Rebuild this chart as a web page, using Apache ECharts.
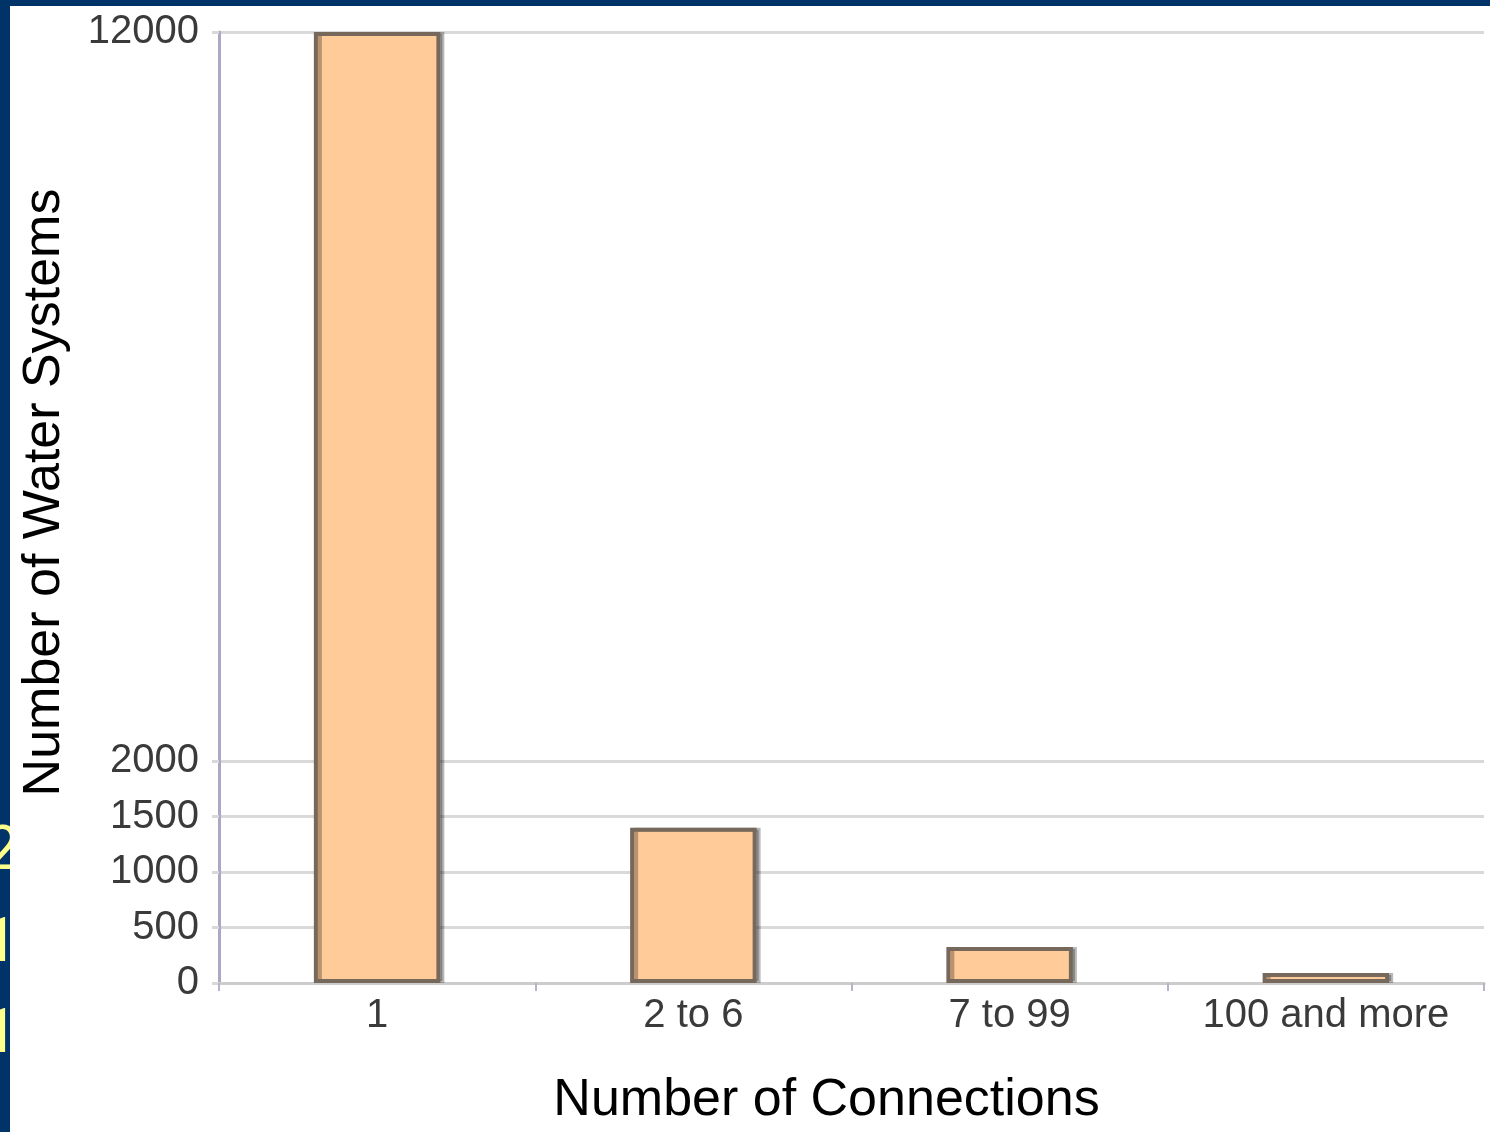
<!DOCTYPE html>
<html>
<head>
<meta charset="utf-8">
<script src="https://cdn.jsdelivr.net/npm/echarts@6/dist/echarts.min.js"></script>
<style>
html,body{margin:0;padding:0;background:#003468;}
#chart{width:1490px;height:1132px;}
</style>
</head>
<body>
<div id="chart"></div>
<script>
// Data
var categories = ['1', '2 to 6', '7 to 99', '100 and more'];
var systemCounts = [12000, 1400, 325, 90];
var yTickLabels = [0, 500, 1000, 1500, 2000, 12000];

// Broken y-axis: linear up to 2000, compressed above
var BREAK_AT = 2000;
var COMPRESS = 0.658;
function toAxis(v) {
  return v <= BREAK_AT ? v : BREAK_AT + (v - BREAK_AT) * COMPRESS;
}
var yTickPositions = yTickLabels.map(toAxis);
var axisMax = toAxis(12000);

var FONT = '"Liberation Sans", Arial, sans-serif';
var SIDE_FONT = 'Roboto, "Liberation Sans", sans-serif';

var chart = echarts.init(document.getElementById('chart'), null, {renderer: 'canvas'});
chart.setOption({
  backgroundColor: '#003468',
  animation: false,
  graphic: [
    {type: 'text', z: -3, left: -15, top: 822,
      style: {text: '2', fill: '#ffff8c', font: '62px ' + SIDE_FONT}},
    {type: 'text', z: -3, left: -17, top: 914,
      style: {text: '1', fill: '#ffff8c', font: '62px ' + SIDE_FONT}},
    {type: 'text', z: -3, left: -17, top: 1005,
      style: {text: '1', fill: '#ffff8c', font: '62px ' + SIDE_FONT}},
    {type: 'rect', z: -2, shape: {x: 10, y: 6, width: 1480, height: 1126},
      style: {fill: '#ffffff'}}
  ],
  grid: {left: 219, right: 6, top: 32, bottom: 149, containLabel: false, outerBoundsMode: 'none'},
  xAxis: {
    type: 'category',
    data: categories,
    boundaryGap: true,
    name: 'Number of Connections',
    nameLocation: 'middle',
    nameGap: 92,
    nameTextStyle: {fontFamily: FONT, fontSize: 52, color: '#000', padding: [0, 50, 0, 0]},
    axisLine: {lineStyle: {color: '#cccccc', width: 3}},
    axisTick: {show: true, interval: 0, length: 8, alignWithLabel: false, lineStyle: {color: '#b4b4cc', width: 2}},
    axisLabel: {interval: 0, fontFamily: FONT, fontSize: 40, color: '#3a3a3a', margin: 13}
  },
  yAxis: {
    type: 'value',
    min: 0,
    max: axisMax,
    name: 'Number of Water Systems',
    nameLocation: 'middle',
    nameRotate: 90,
    nameGap: 148,
    nameTextStyle: {fontFamily: FONT, fontSize: 52, color: '#000', padding: [0, 0, 0, 30]},
    axisLine: {show: true, lineStyle: {color: '#aaa8c4', width: 3}},
    axisTick: {show: true, length: 7, customValues: yTickPositions, lineStyle: {color: '#d9d9d9', width: 3}},
    axisLabel: {
      customValues: yTickPositions,
      fontFamily: FONT, fontSize: 40, color: '#3a3a3a', margin: 20,
      formatter: function (v) {
        for (var i = 0; i < yTickPositions.length; i++) {
          if (Math.abs(yTickPositions[i] - v) < 1e-6) return String(yTickLabels[i]);
        }
        return '';
      }
    },
    splitLine: {show: true, lineStyle: {color: '#d9d9d9', width: 3}}
  },
  series: [{
    type: 'bar',
    data: systemCounts.map(function (v) { return {value: toAxis(v), raw: v}; }),
    barWidth: '40%',
    itemStyle: {
      color: '#ffcc99',
      borderColor: '#76685a',
      borderWidth: 4,
      shadowColor: 'rgba(0,0,0,0.28)',
      shadowOffsetX: 4,
      shadowOffsetY: 0,
      shadowBlur: 0
    }
  }]
});
</script>
</body>
</html>
